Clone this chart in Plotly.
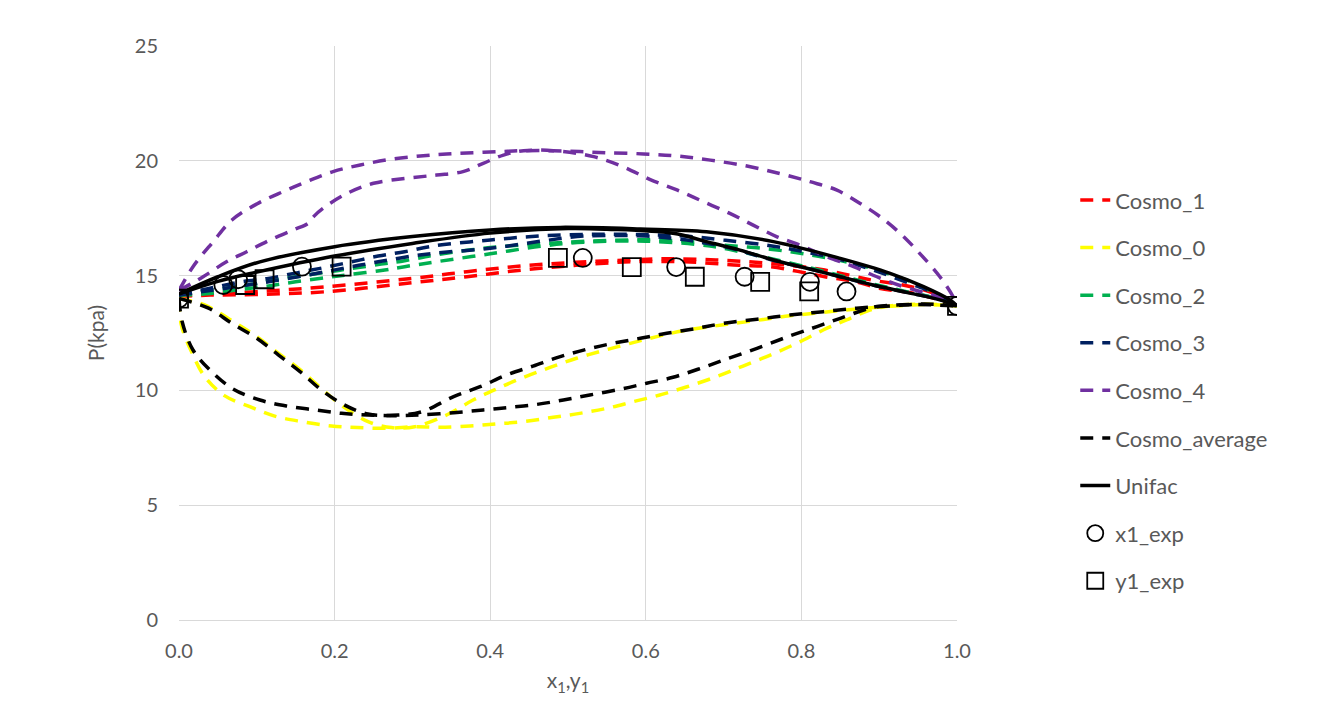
import plotly.graph_objects as go

# ---- Model curves: P (kPa) along bubble (x1) and dew (y1) branches ----
cosmo1_xb = [0, 0.04, 0.1, 0.19, 0.3, 0.37, 0.44, 0.51, 0.58, 0.62, 0.69, 0.76, 0.83, 0.89, 0.935, 0.97, 1]
cosmo1_pb = [14.1, 14.2, 14.3, 14.52, 14.88, 15.17, 15.42, 15.58, 15.68, 15.73, 15.68, 15.53, 15.24, 14.81, 14.56, 14.23, 13.68]
cosmo1_xd = [0, 0.04, 0.1, 0.19, 0.3, 0.37, 0.44, 0.51, 0.58, 0.65, 0.72, 0.76, 0.83, 0.87, 0.9, 0.944, 0.978, 1]
cosmo1_pd = [14.1, 14.15, 14.18, 14.3, 14.69, 14.95, 15.24, 15.45, 15.6, 15.6, 15.45, 15.39, 14.95, 14.73, 14.45, 14.23, 13.94, 13.68]

cosmo0_xb = [0, 0.033, 0.07, 0.1, 0.128, 0.156, 0.185, 0.211, 0.243, 0.273, 0.303, 0.344, 0.378, 0.408, 0.443,
             0.477, 0.511, 0.545, 0.58, 0.614, 0.648, 0.7, 0.743, 0.785, 0.828, 0.871, 0.914, 0.957, 1]
cosmo0_pb = [14.0, 13.72, 12.99, 12.34, 11.61, 10.89, 10.02, 9.29, 8.64, 8.38, 8.42, 8.93, 9.58, 10.06, 10.57,
             11.0, 11.4, 11.73, 12.05, 12.34, 12.6, 12.86, 13.05, 13.25, 13.4, 13.55, 13.66, 13.74, 13.68]
cosmo0_xd = [0, 0.003, 0.016, 0.033, 0.059, 0.091, 0.123, 0.158, 0.196, 0.23, 0.269, 0.303, 0.335, 0.374, 0.408,
             0.443, 0.481, 0.515, 0.55, 0.584, 0.618, 0.653, 0.691, 0.725, 0.76, 0.794, 0.828, 0.858, 0.888,
             0.914, 0.957, 1]
cosmo0_pd = [14.0, 12.85, 11.69, 10.6, 9.76, 9.29, 8.88, 8.64, 8.45, 8.38, 8.35, 8.42, 8.39, 8.45, 8.54,
             8.64, 8.83, 9.0, 9.22, 9.51, 9.8, 10.16, 10.6, 11.06, 11.54, 12.05, 12.63, 13.07, 13.5,
             13.68, 13.76, 13.68]

cosmo2_xb = [0, 0.04, 0.08, 0.115, 0.15, 0.19, 0.22, 0.26, 0.29, 0.33, 0.4, 0.47, 0.54, 0.6, 0.65, 0.69,
             0.76, 0.82, 0.87, 0.91, 0.95, 1]
cosmo2_pb = [14.15, 14.35, 14.55, 14.75, 14.95, 15.15, 15.3, 15.5, 15.65, 15.9, 16.22, 16.4, 16.52, 16.56, 16.5,
             16.36, 16.15, 15.85, 15.5, 15.1, 14.6, 13.68]
cosmo2_xd = [0, 0.04, 0.08, 0.115, 0.15, 0.19, 0.22, 0.26, 0.29, 0.33, 0.4, 0.47, 0.52, 0.6, 0.68, 0.72,
             0.76, 0.81, 0.85, 0.89, 0.935, 0.98, 1]
cosmo2_pd = [14.15, 14.22, 14.4, 14.55, 14.73, 14.92, 15.05, 15.22, 15.39, 15.6, 15.95, 16.3, 16.45, 16.5, 16.3,
             16.05, 15.75, 15.35, 15.0, 14.65, 14.3, 13.95, 13.68]

cosmo3_xb = [0, 0.04, 0.08, 0.115, 0.153, 0.188, 0.222, 0.256, 0.29, 0.327, 0.4, 0.47, 0.54, 0.6, 0.65,
             0.7, 0.76, 0.81, 0.85, 0.9, 0.94, 0.97, 1]
cosmo3_pb = [14.15, 14.45, 14.73, 14.88, 15.13, 15.36, 15.6, 15.85, 16.04, 16.29, 16.55, 16.74, 16.8, 16.78, 16.72,
             16.55, 16.3, 16.0, 15.7, 15.15, 14.65, 14.25, 13.68]
cosmo3_xd = [0, 0.04, 0.08, 0.115, 0.153, 0.188, 0.222, 0.256, 0.29, 0.327, 0.4, 0.47, 0.52, 0.6, 0.64,
             0.68, 0.72, 0.76, 0.81, 0.85, 0.89, 0.935, 0.98, 1]
cosmo3_pd = [14.15, 14.35, 14.55, 14.73, 14.95, 15.17, 15.39, 15.6, 15.8, 15.97, 16.19, 16.52, 16.72, 16.72, 16.6,
             16.4, 16.1, 15.7, 15.3, 14.95, 14.6, 14.27, 13.94, 13.68]

cosmo4_xb = [0, 0.018, 0.044, 0.068, 0.1, 0.134, 0.164, 0.198, 0.233, 0.271, 0.31, 0.344, 0.378, 0.413,
             0.442, 0.481, 0.515, 0.55, 0.597, 0.64, 0.683, 0.73, 0.772, 0.811, 0.845, 0.875, 0.901, 0.927,
             0.952, 0.978, 0.995, 1]
cosmo4_pb = [14.35, 15.39, 16.48, 17.42, 18.12, 18.66, 19.09, 19.53, 19.82, 20.06, 20.21, 20.3, 20.35, 20.4,
             20.44, 20.44, 20.4, 20.35, 20.3, 20.21, 20.03, 19.77, 19.45, 19.09, 18.73, 18.15, 17.57, 16.84,
             15.97, 14.95, 14.08, 13.68]
cosmo4_xd = [0, 0.031, 0.061, 0.087, 0.117, 0.147, 0.166, 0.173, 0.185, 0.216, 0.25, 0.293, 0.331, 0.365,
             0.391, 0.417, 0.443, 0.481, 0.533, 0.571, 0.605, 0.64, 0.674, 0.708, 0.738, 0.768, 0.798, 0.833,
             0.867, 0.897, 0.931, 0.961, 0.987, 1]
cosmo4_pd = [14.35, 14.95, 15.6, 16.04, 16.55, 16.99, 17.28, 17.57, 17.93, 18.58, 19.02, 19.24, 19.38, 19.53,
             19.89, 20.25, 20.44, 20.44, 20.18, 19.74, 19.19, 18.73, 18.22, 17.71, 17.2, 16.7, 16.33, 15.82,
             15.39, 14.95, 14.52, 14.23, 13.94, 13.68]

avg_xb = [0, 0.038, 0.068, 0.1, 0.128, 0.156, 0.183, 0.213, 0.243, 0.282, 0.312, 0.353, 0.387, 0.421, 0.455,
          0.49, 0.524, 0.558, 0.593, 0.627, 0.665, 0.7, 0.743, 0.785, 0.828, 0.871, 0.914, 0.957, 1]
avg_pb = [14.0, 13.58, 12.92, 12.27, 11.54, 10.81, 10.02, 9.36, 8.97, 8.93, 9.07, 9.73, 10.16, 10.67, 11.06,
          11.47, 11.79, 12.05, 12.27, 12.49, 12.7, 12.92, 13.1, 13.28, 13.43, 13.58, 13.68, 13.76, 13.68]
avg_xd = [0, 0.004, 0.018, 0.042, 0.07, 0.104, 0.138, 0.175, 0.209, 0.243, 0.282, 0.31, 0.353, 0.391, 0.425,
          0.46, 0.494, 0.528, 0.567, 0.601, 0.635, 0.667, 0.7, 0.743, 0.785, 0.82, 0.85, 0.88, 0.897, 0.94, 1]
avg_pd = [14.0, 13.0, 11.76, 10.81, 10.05, 9.58, 9.32, 9.15, 9.0, 8.93, 8.9, 8.93, 9.03, 9.15, 9.26,
          9.39, 9.58, 9.8, 10.05, 10.31, 10.57, 10.92, 11.32, 11.83, 12.37, 12.78, 13.14, 13.5, 13.65, 13.74, 13.68]

unifac_xb = [0, 0.05, 0.104, 0.2, 0.3, 0.4, 0.49, 0.593, 0.678, 0.764, 0.85, 0.914, 0.957, 0.991, 1]
unifac_pb = [14.2, 14.95, 15.6, 16.26, 16.7, 16.99, 17.1, 17.03, 16.91, 16.48, 15.75, 15.1, 14.52, 13.94, 13.68]
unifac_xd = [0, 0.05, 0.1, 0.2, 0.3, 0.4, 0.5, 0.55, 0.635, 0.678, 0.721, 0.764, 0.807, 0.85, 0.892, 0.935, 0.978, 1]
unifac_pd = [14.2, 14.75, 15.15, 15.85, 16.4, 16.85, 17.05, 17.02, 16.84, 16.48, 16.11, 15.68, 15.32, 14.95,
             14.59, 14.27, 13.94, 13.68]

# ---- Experimental VLE data ----
x1_exp = [0, 0.057, 0.076, 0.158, 0.519, 0.639, 0.727, 0.811, 0.858, 1]
y1_exp = [0, 0.085, 0.110, 0.209, 0.487, 0.582, 0.663, 0.747, 0.810, 1]
p_exp = [14.0, 14.59, 14.84, 15.39, 15.77, 15.37, 14.95, 14.73, 14.31, 13.68]

model_series = [
    ("Cosmo_1", "#FF0000", cosmo1_xb, cosmo1_pb, cosmo1_xd, cosmo1_pd, "dash"),
    ("Cosmo_0", "#FFFF00", cosmo0_xb, cosmo0_pb, cosmo0_xd, cosmo0_pd, "dash"),
    ("Cosmo_2", "#00B050", cosmo2_xb, cosmo2_pb, cosmo2_xd, cosmo2_pd, "dash"),
    ("Cosmo_3", "#002060", cosmo3_xb, cosmo3_pb, cosmo3_xd, cosmo3_pd, "dash"),
    ("Cosmo_4", "#7030A0", cosmo4_xb, cosmo4_pb, cosmo4_xd, cosmo4_pd, "dash"),
    ("Cosmo_average", "#000000", avg_xb, avg_pb, avg_xd, avg_pd, "dash"),
    ("Unifac", "#000000", unifac_xb, unifac_pb, unifac_xd, unifac_pd, "solid"),
]

FONT = "Lato"
TEXT = "#595959"
GRID = "#D9D9D9"

fig = go.Figure()
for name, color, xb, pb, xd, pd_, dash in model_series:
    line = dict(color=color, width=3.5, dash="13px,9px" if dash == "dash" else "solid")
    fig.add_trace(go.Scatter(x=xb, y=pb, mode="lines", name=name, legendgroup=name,
                             line=line, line_shape="spline", showlegend=True))
    fig.add_trace(go.Scatter(x=xd, y=pd_, mode="lines", name=name, legendgroup=name,
                             line=line, line_shape="spline", showlegend=False))

fig.add_trace(go.Scatter(x=x1_exp, y=p_exp, mode="markers", name="x1_exp", legendgroup="x1_exp",
                         marker=dict(symbol="circle-open", size=18, color="#000000",
                                     line=dict(width=1.8, color="#000000"))))
fig.add_trace(go.Scatter(x=y1_exp, y=p_exp, mode="markers", name="y1_exp", legendgroup="y1_exp",
                         marker=dict(symbol="square-open", size=18, color="#000000",
                                     line=dict(width=1.8, color="#000000"))))

fig.update_layout(
    width=1319, height=711,
    margin=dict(l=179, r=362, t=46, b=91),
    paper_bgcolor="white", plot_bgcolor="white",
    font=dict(family=FONT, size=21, color=TEXT),
    legend=dict(x=1.152, xanchor="left", y=0.768, yanchor="top",
                tracegroupgap=16, font=dict(family=FONT, size=22, color=TEXT),
                bgcolor="rgba(0,0,0,0)"),
    xaxis=dict(range=[0, 1], tickvals=[0, 0.2, 0.4, 0.6, 0.8, 1.0], tickformat=".1f",
               showgrid=True, gridcolor=GRID, gridwidth=1, zeroline=False,
               showline=True, linecolor=GRID, linewidth=1, ticks="",
               ticklabelstandoff=13,
               tickfont=dict(family=FONT, size=20, color=TEXT),
               title=dict(text="x<sub>1</sub>,y<sub>1</sub>", standoff=12,
                          font=dict(family=FONT, size=21, color=TEXT))),
    yaxis=dict(range=[0, 25], tickvals=[0, 5, 10, 15, 20, 25],
               showgrid=True, gridcolor=GRID, gridwidth=1, zeroline=False,
               showline=False, ticks="",
               ticklabelstandoff=20,
               tickfont=dict(family=FONT, size=20, color=TEXT),
               title=dict(text="P(kpa)", standoff=24,
                          font=dict(family=FONT, size=21, color=TEXT))),
)

fig.write_html("out.html")
